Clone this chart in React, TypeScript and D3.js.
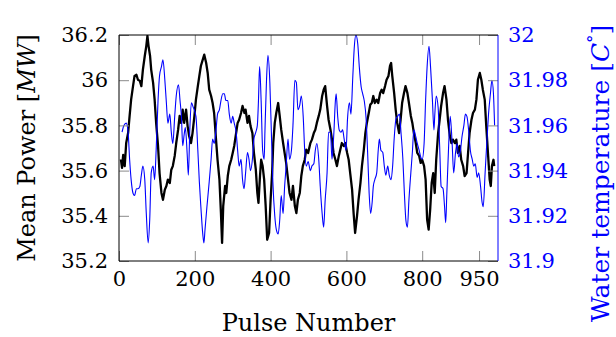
import React, { useEffect } from "react";
import * as d3 from "d3";

// mean power (black)
const powerPulse = [
  5, 8, 11, 15, 19, 24, 28, 32, 37, 41, 46, 50, 55, 59, 63, 68, 72, 75, 78, 82,
  85, 90, 94, 98, 103, 107, 112, 116, 121, 125, 129, 134, 138, 142, 147, 151,
  156, 160, 164, 168, 172, 177, 181, 185, 190, 194, 199, 203, 208, 212, 216,
  221, 225, 230, 234, 238, 243, 247, 251, 256, 260, 265, 269, 272, 275, 280,
  283, 287, 291, 296, 300, 304, 309, 313, 317, 322, 326, 331, 334, 339, 343,
  347, 352, 356, 361, 365, 368, 372, 375, 379, 383, 387, 391, 396, 400, 404,
  407, 411, 415, 420, 424, 428, 433, 437, 441, 446, 450, 455, 459, 464, 468,
  472, 477, 481, 485, 490, 494, 499, 505, 509, 514, 518, 522, 527, 531, 536,
  540, 544, 549, 553, 558, 562, 566, 571, 575, 580, 584, 588, 593, 597, 602,
  606, 610, 615, 619, 623, 628, 632, 637, 641, 646, 650, 654, 659, 663, 667,
  671, 675, 680, 684, 689, 693, 697, 702, 706, 711, 715, 718, 721, 726, 730,
  734, 739, 743, 747, 752, 756, 761, 765, 770, 774, 778, 783, 787, 792, 796,
  800, 805, 809, 813, 817, 821, 825, 829, 833, 837, 842, 846, 850, 855, 859,
  864, 868, 873, 877, 881, 886, 890, 894, 899, 903, 908, 912, 917, 921, 925,
  930, 934, 939, 943, 947, 952, 956, 960, 965, 969, 974, 978, 981, 984, 988,
  990,
];
const powerValue = [
  35.65, 35.612, 35.669, 35.62, 35.722, 35.766, 35.842, 35.914, 35.974, 36.019,
  36.024, 36.002, 35.997, 35.974, 36.046, 36.107, 36.151, 36.196, 36.151,
  36.107, 36.046, 35.988, 35.914, 35.811, 35.709, 35.589, 35.501, 35.471,
  35.516, 35.532, 35.56, 35.545, 35.604, 35.62, 35.665, 35.722, 35.781, 35.842,
  35.811, 35.87, 35.811, 35.87, 35.797, 35.753, 35.722, 35.766, 35.842, 35.914,
  35.974, 36.019, 36.063, 36.091, 36.113, 36.076, 36.032, 35.958, 35.93,
  35.899, 35.855, 35.737, 35.648, 35.56, 35.412, 35.28, 35.443, 35.532, 35.501,
  35.576, 35.62, 35.648, 35.678, 35.709, 35.766, 35.811, 35.825, 35.855,
  35.886, 35.855, 35.87, 35.811, 35.842, 35.797, 35.766, 35.678, 35.604,
  35.501, 35.457, 35.576, 35.648, 35.62, 35.56, 35.443, 35.294, 35.324, 35.471,
  35.589, 35.722, 35.811, 35.855, 35.899, 35.842, 35.781, 35.722, 35.678,
  35.634, 35.56, 35.501, 35.471, 35.532, 35.443, 35.412, 35.471, 35.501,
  35.576, 35.62, 35.648, 35.693, 35.678, 35.722, 35.737, 35.766, 35.781,
  35.811, 35.842, 35.87, 35.93, 35.958, 35.974, 35.886, 35.825, 35.781, 35.737,
  35.678, 35.648, 35.62, 35.665, 35.693, 35.722, 35.709, 35.722, 35.678,
  35.648, 35.589, 35.516, 35.412, 35.324, 35.399, 35.471, 35.545, 35.62,
  35.693, 35.766, 35.811, 35.855, 35.892, 35.899, 35.93, 35.899, 35.914,
  35.899, 35.943, 35.958, 35.943, 35.974, 36.002, 36.019, 36.063, 36.076,
  36.019, 35.943, 35.87, 35.811, 35.766, 35.825, 35.899, 35.943, 35.974,
  35.943, 35.899, 35.842, 35.811, 35.766, 35.722, 35.678, 35.665, 35.634,
  35.648, 35.62, 35.56, 35.383, 35.339, 35.427, 35.545, 35.589, 35.501, 35.648,
  35.766, 35.825, 35.886, 35.943, 35.974, 35.914, 35.825, 35.753, 35.722,
  35.737, 35.722, 35.737, 35.678, 35.709, 35.648, 35.62, 35.576, 35.589,
  35.678, 35.766, 35.825, 35.855, 35.87, 35.914, 36.002, 36.032, 36.002,
  35.958, 35.914, 35.797, 35.665, 35.56, 35.532, 35.62, 35.648, 35.62,
];

// water temperature (blue)
const tempPulse = [
  8, 13, 19, 24, 28, 32, 37, 41, 46, 50, 55, 59, 63, 68, 72, 77, 81, 85, 90, 94,
  98, 103, 107, 112, 116, 121, 125, 129, 134, 138, 142, 147, 151, 157, 161,
  165, 168, 172, 175, 180, 183, 187, 191, 196, 203, 208, 212, 216, 221, 224,
  227, 232, 238, 243, 247, 251, 256, 260, 265, 269, 274, 278, 282, 287, 291,
  296, 300, 304, 309, 313, 317, 322, 326, 330, 334, 339, 343, 347, 352, 356,
  361, 365, 368, 371, 375, 379, 383, 385, 389, 393, 398, 402, 406, 411, 415,
  420, 424, 428, 433, 437, 441, 446, 450, 455, 459, 464, 468, 472, 477, 481,
  486, 490, 494, 499, 505, 509, 514, 518, 522, 527, 531, 536, 540, 544, 549,
  553, 558, 562, 567, 571, 573, 577, 581, 586, 590, 594, 599, 603, 608, 612,
  617, 621, 625, 630, 634, 639, 643, 647, 652, 656, 660, 664, 668, 671, 675,
  680, 684, 687, 691, 696, 700, 704, 709, 713, 718, 722, 726, 731, 735, 740,
  744, 749, 753, 757, 761, 765, 770, 774, 778, 783, 787, 792, 796, 800, 805,
  809, 813, 818, 822, 827, 831, 833, 837, 842, 846, 850, 855, 859, 862, 865,
  870, 874, 879, 883, 888, 892, 896, 901, 905, 910, 914, 918, 923, 927, 932,
  936, 940, 945, 949, 954, 958, 961, 966, 971, 975, 980, 984, 988, 991,
];
const tempValue = [
  31.957, 31.96, 31.961, 31.957, 31.945, 31.936, 31.93, 31.929, 31.932, 31.932,
  31.933, 31.938, 31.942, 31.936, 31.921, 31.908, 31.918, 31.939, 31.942,
  31.936, 31.949, 31.971, 31.982, 31.986, 31.989, 31.98, 31.97, 31.961, 31.965,
  31.957, 31.952, 31.964, 31.973, 31.978, 31.971, 31.963, 31.951, 31.956,
  31.959, 31.947, 31.938, 31.959, 31.97, 31.968, 31.964, 31.949, 31.935,
  31.924, 31.912, 31.908, 31.914, 31.924, 31.935, 31.945, 31.954, 31.952,
  31.958, 31.965, 31.967, 31.971, 31.974, 31.974, 31.971, 31.971, 31.965,
  31.961, 31.964, 31.961, 31.957, 31.949, 31.942, 31.945, 31.936, 31.932,
  31.939, 31.948, 31.945, 31.94, 31.945, 31.954, 31.957, 31.96, 31.971, 31.986,
  31.971, 31.949, 31.945, 31.957, 31.979, 31.991, 31.979, 31.957, 31.935,
  31.92, 31.914, 31.912, 31.918, 31.929, 31.921, 31.933, 31.942, 31.954,
  31.945, 31.949, 31.96, 31.98, 31.979, 31.967, 31.969, 31.973, 31.964,
  31.949, 31.942, 31.944, 31.94, 31.942, 31.943, 31.949, 31.952, 31.945,
  31.933, 31.921, 31.915, 31.927, 31.939, 31.957, 31.957, 31.945, 31.957,
  31.971, 31.974, 31.964, 31.958, 31.957, 31.958, 31.954, 31.949, 31.963,
  31.97, 31.965, 31.982, 31.995, 32.0, 31.996, 31.986, 31.977, 31.974, 31.971,
  31.963, 31.948, 31.93, 31.921, 31.926, 31.933, 31.936, 31.939, 31.949,
  31.954, 31.949, 31.948, 31.942, 31.938, 31.942, 31.938, 31.936, 31.942,
  31.954, 31.963, 31.964, 31.965, 31.957, 31.945, 31.93, 31.918, 31.915,
  31.927, 31.939, 31.948, 31.958, 31.955, 31.952, 31.949, 31.946, 31.945,
  31.952, 31.971, 31.986, 31.995, 31.986, 31.971, 31.958, 31.964, 31.973,
  31.968, 31.951, 31.933, 31.932, 31.924, 31.917, 31.93, 31.952, 31.964,
  31.952, 31.939, 31.948, 31.952, 31.946, 31.949, 31.955, 31.96, 31.965,
  31.964, 31.957, 31.949, 31.945, 31.942, 31.943, 31.937, 31.939, 31.933,
  31.926, 31.924, 31.939, 31.954, 31.965, 31.974, 31.98, 31.974, 31.96,
];

const xTicks = [0, 200, 400, 600, 800, 950];
const powerTicks = [35.2, 35.4, 35.6, 35.8, 36, 36.2];
const powerTickLabels = ["35.2", "35.4", "35.6", "35.8", "36", "36.2"];
const tempTicks = [31.9, 31.92, 31.94, 31.96, 31.98, 32];
const tempTickLabels = ["31.9", "31.92", "31.94", "31.96", "31.98", "32"];

const App: React.FC = () => {
  useEffect(() => {
    d3.select("#viz_container").select("svg").remove();

    const margin = { top: 35, right: 118, bottom: 76, left: 119 };
    const width = 616 - margin.left - margin.right;
    const height = 337 - margin.top - margin.bottom;
    const font = "DejaVu Serif";
    const tickGrey = "#8a8a8a";

    const root = d3
      .select("#viz_container")
      .append("svg")
      .attr("width", 616)
      .attr("height", 337)
      .style("position", "absolute")
      .style("left", "0px")
      .style("top", "0px")
      .style("background", "#fff");

    const svg = root
      .append("g")
      .attr("transform", `translate(${margin.left}, ${margin.top})`);

    const xScale = d3.scaleLinear().domain([0, 1000]).range([0, width]);
    const yPower = d3.scaleLinear().domain([35.2, 36.2]).range([height, 0]);
    const yTemp = d3.scaleLinear().domain([31.9, 32]).range([height, 0]);

    svg
      .append("clipPath")
      .attr("id", "plot_clip")
      .append("rect")
      .attr("width", width)
      .attr("height", height);

    // lines
    const powerLine = d3
      .line<number>()
      .x((d, i) => xScale(powerPulse[i]))
      .y((d) => yPower(d));
    const tempLine = d3
      .line<number>()
      .x((d, i) => xScale(tempPulse[i]))
      .y((d) => yTemp(d))
      .curve(d3.curveMonotoneX);

    const lines = svg.append("g").attr("clip-path", "url(#plot_clip)");
    lines
      .append("path")
      .attr("d", powerLine(powerValue) as string)
      .attr("fill", "none")
      .attr("stroke", "#000")
      .attr("stroke-width", 2.3)
      .attr("stroke-linejoin", "round");
    lines
      .append("path")
      .attr("d", tempLine(tempValue) as string)
      .attr("fill", "none")
      .attr("stroke", "#0000ff")
      .attr("stroke-width", 1.1);

    const styleAxis = (g: any, color: string) => {
      g.select(".domain").remove();
      g.selectAll(".tick line").attr("stroke", tickGrey).attr("stroke-width", 1);
      g.selectAll(".tick text")
        .attr("fill", color)
        .attr("font-family", font)
        .attr("font-size", 21);
    };

    // x axis bottom + top ticks
    svg
      .append("g")
      .attr("transform", `translate(0,${height})`)
      .call(
        d3
          .axisBottom(xScale)
          .tickValues(xTicks)
          .tickFormat((d: any) => String(d))
          .tickSize(-10)
          .tickPadding(10)
      )
      .call((g: any) => styleAxis(g, "#000"));
    svg
      .append("g")
      .call(
        d3
          .axisTop(xScale)
          .tickValues(xTicks)
          .tickFormat(() => "")
          .tickSize(-10)
      )
      .call((g: any) => styleAxis(g, "#000"));

    // left axis
    svg
      .append("g")
      .call(
        d3
          .axisLeft(yPower)
          .tickValues(powerTicks)
          .tickFormat((d: any, i: number) => powerTickLabels[i])
          .tickSize(-10)
          .tickPadding(11)
      )
      .call((g: any) => styleAxis(g, "#000"));

    // right axis
    svg
      .append("g")
      .attr("transform", `translate(${width},0)`)
      .call(
        d3
          .axisRight(yTemp)
          .tickValues(tempTicks)
          .tickFormat((d: any, i: number) => tempTickLabels[i])
          .tickSize(-10)
          .tickPadding(10)
      )
      .call((g: any) => styleAxis(g, "#0000ff"));

    // frame
    svg
      .append("path")
      .attr("d", `M${width},0H0V${height}H${width}`)
      .attr("fill", "none")
      .attr("stroke", "#000")
      .attr("stroke-width", 1);
    svg
      .append("line")
      .attr("x1", width)
      .attr("x2", width)
      .attr("y1", 0)
      .attr("y2", height)
      .attr("stroke", "#0000ff")
      .attr("stroke-width", 1);

    // axis labels
    svg
      .append("text")
      .attr("x", width / 2)
      .attr("y", height + 70)
      .attr("text-anchor", "middle")
      .attr("font-family", font)
      .attr("font-size", 24)
      .text("Pulse Number");

    const leftLabel = root
      .append("text")
      .attr("transform", `translate(35, ${margin.top + height / 2}) rotate(-90)`)
      .attr("text-anchor", "middle")
      .attr("font-family", font)
      .attr("font-size", 24);
    leftLabel.append("tspan").text("Mean Power [");
    leftLabel.append("tspan").attr("font-style", "italic").text("MW");
    leftLabel.append("tspan").text("]");

    const rightLabel = root
      .append("text")
      .attr("transform", `translate(609, 322) rotate(-90)`)
      .attr("text-anchor", "start")
      .attr("font-family", font)
      .attr("font-size", 25)
      .attr("fill", "#0000ff");
    rightLabel.append("tspan").text("Water temperature [");
    rightLabel.append("tspan").attr("font-style", "italic").text("C");
    rightLabel
      .append("tspan")
      .attr("dy", -10)
      .attr("font-size", 17)
      .text("°");
    rightLabel.append("tspan").attr("dy", 10).text("]");
  }, []);

  return <div id="viz_container" />;
};

export default App;
